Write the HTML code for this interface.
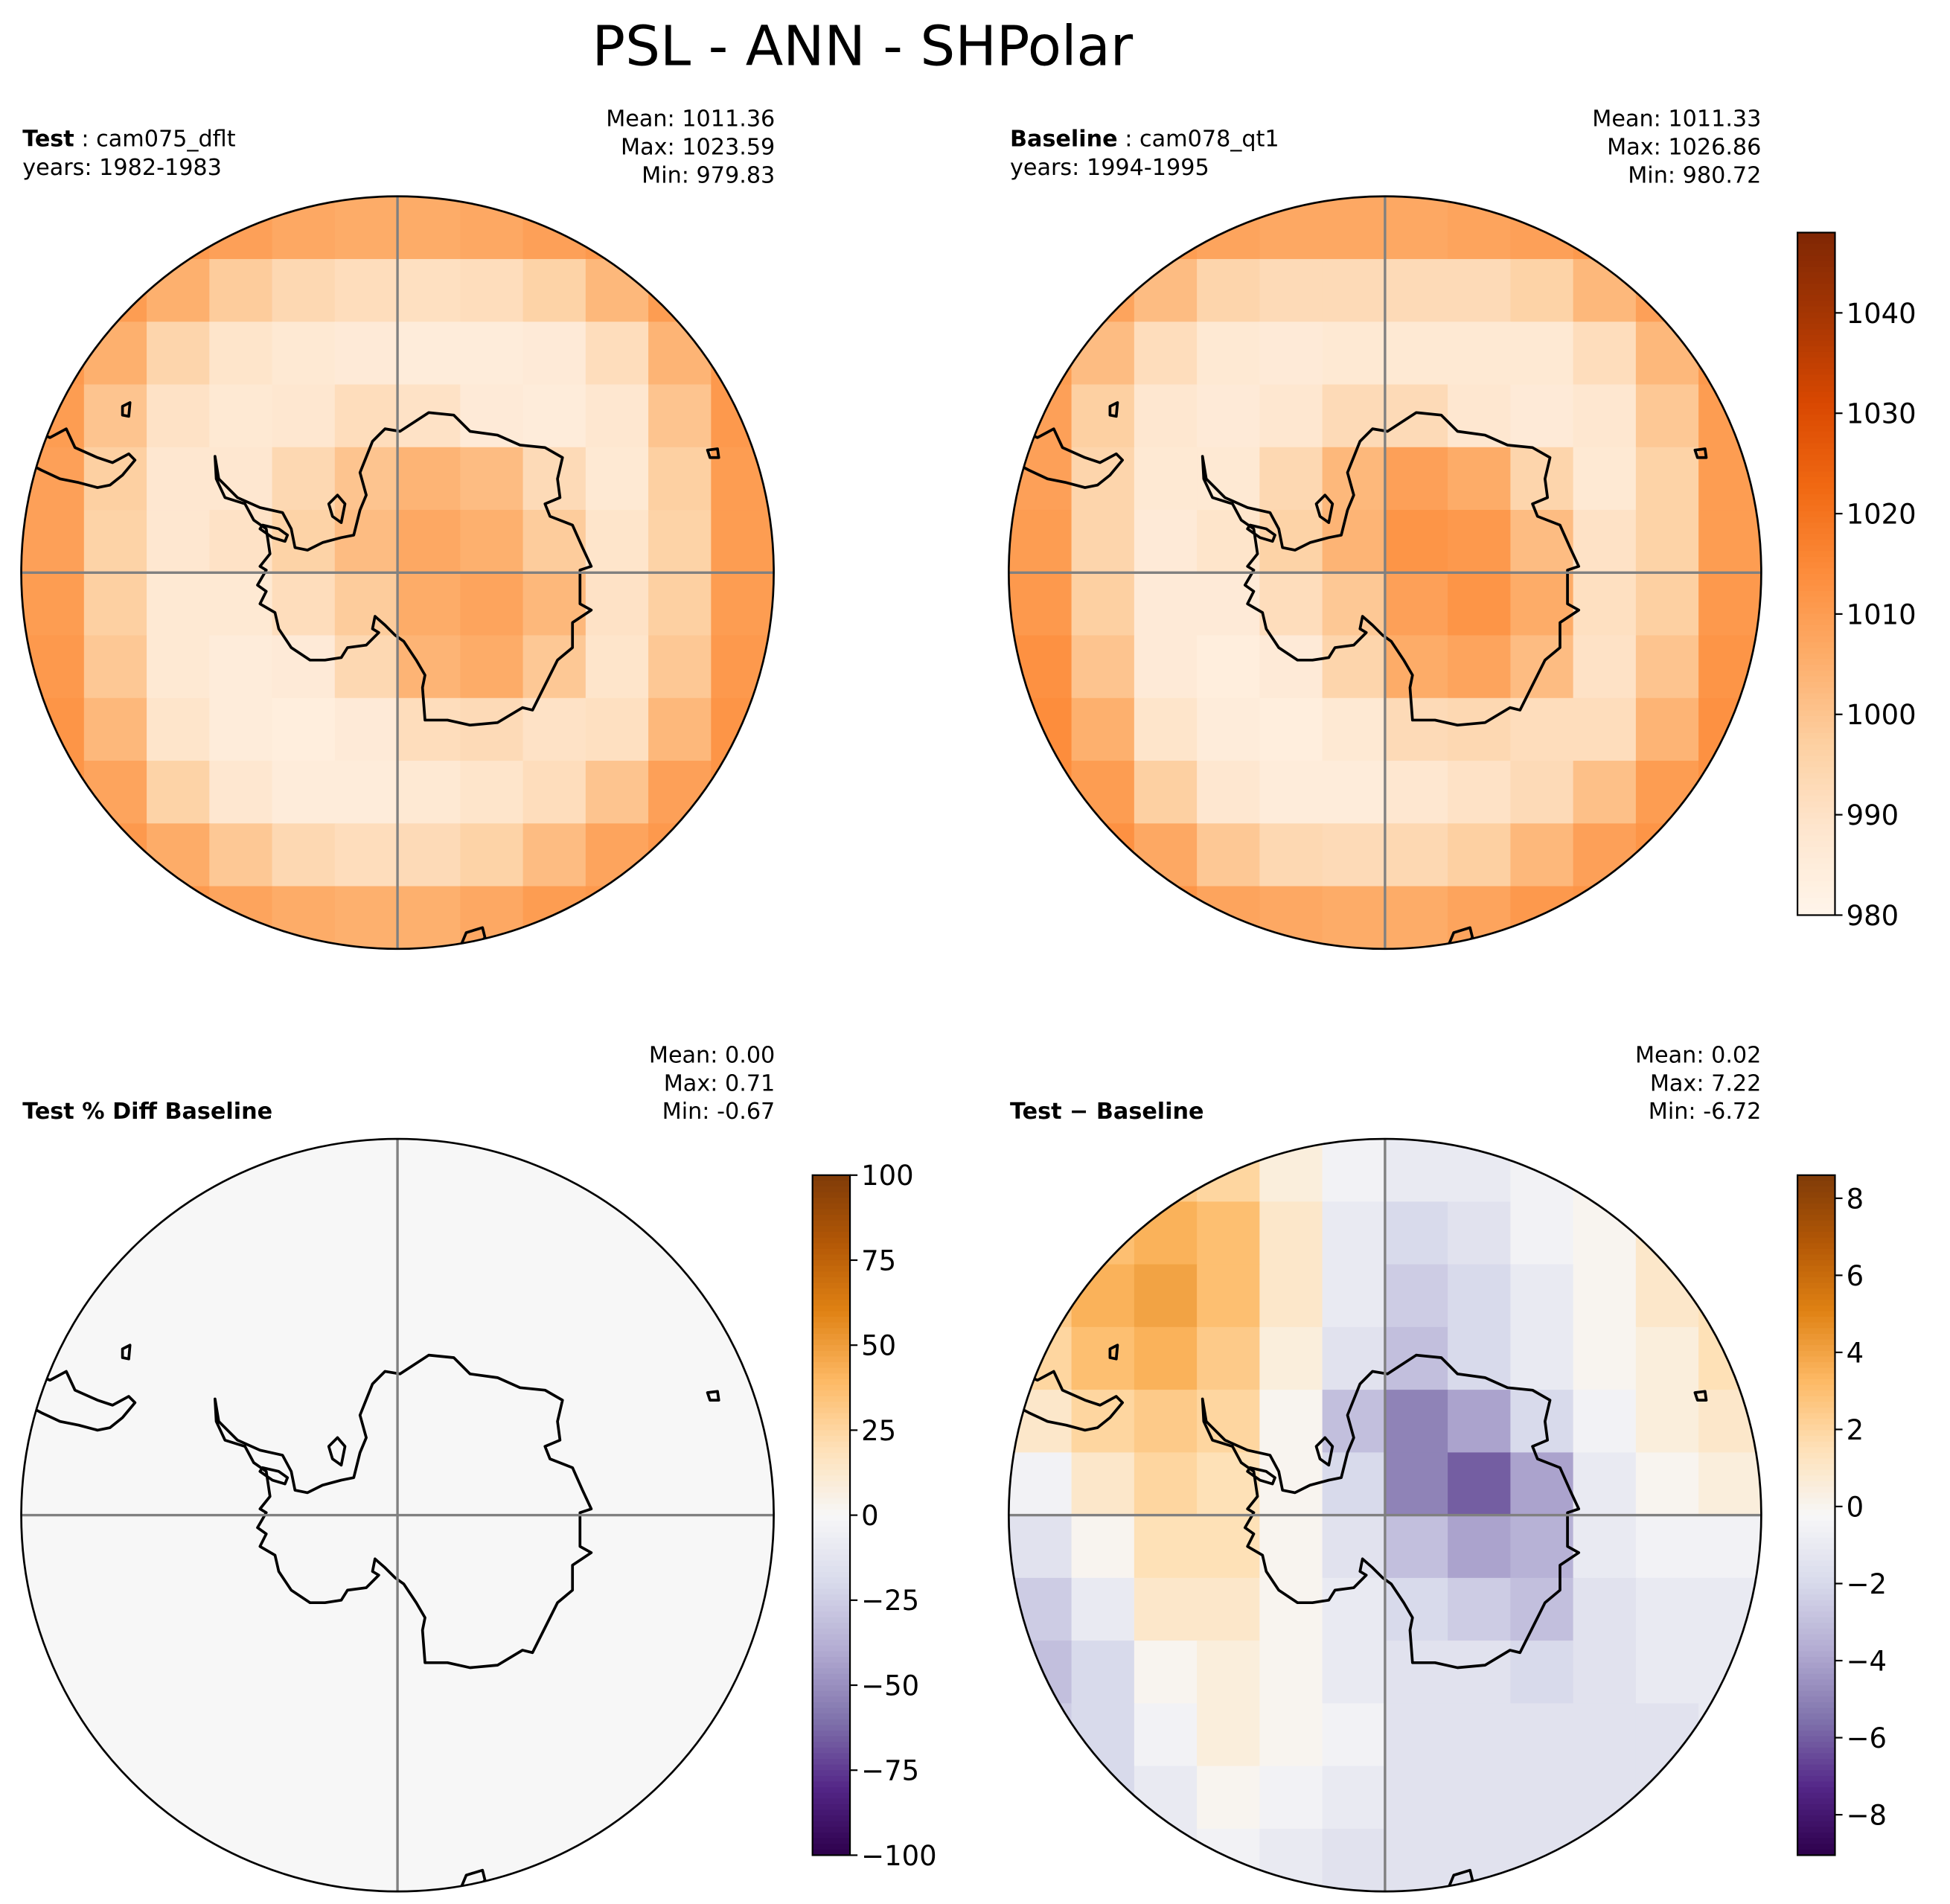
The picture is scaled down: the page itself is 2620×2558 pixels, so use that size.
<!DOCTYPE html>
<html><head><meta charset="utf-8">
<style>
html,body{margin:0;padding:0;background:#fff;}
svg{display:block;}
text{font-family:"DejaVu Sans","Liberation Sans",sans-serif;}
</style></head>
<body>
<svg id="fig" width="2620" height="2558" viewBox="0 0 1560 1523" xmlns="http://www.w3.org/2000/svg">
<defs>
<clipPath id="c1"><circle cx="318" cy="458" r="301"/></clipPath>
<clipPath id="c2"><circle cx="1108" cy="458" r="301"/></clipPath>
<clipPath id="c3"><circle cx="318" cy="1212" r="301"/></clipPath>
<clipPath id="c4"><circle cx="1108" cy="1212" r="301"/></clipPath>
</defs>
<text x="690" y="52" font-size="44" text-anchor="middle">PSL - ANN - SHPolar</text>
<g id="layer"></g>
</svg>
<script>
// ---- data ----
const testVals = [
[1012,1012,1011,1009,1007,1006,1006,1007,1009,1011,1012,1012],
[1012,1010,1005,998,994,992,991,992,996,1003,1010,1012],
[1011,1005,995,989,987,986,985,985,986,992,1004,1011],
[1010,1000,990,987,988,992,990,986,985,988,1000,1011],
[1009,997,988,988,994,1000,1004,1002,993,987,997,1010],
[1009,996,988,990,996,1002,1007,1005,998,989,996,1010],
[1010,997,987,987,992,998,1006,1008,1003,990,997,1010],
[1011,999,987,985,986,994,1004,1006,999,989,999,1011],
[1012,1003,989,985,984,986,992,993,990,991,1003,1012],
[1012,1008,996,988,985,985,987,989,992,1000,1009,1012],
[1012,1011,1006,999,994,992,993,996,1002,1008,1011,1012],
[1012,1012,1011,1008,1006,1005,1005,1007,1010,1011,1012,1012]];
const baseVals = [
[1011,1011,1010,1008,1007,1007,1007,1008,1009,1011,1012,1012],
[1011,1008,1002,995,993,993,993,993,996,1003,1009,1012],
[1010,1002,992,987,986,987,987,987,987,992,1003,1011],
[1009,997,988,986,988,993,993,988,986,988,999,1010],
[1009,995,987,987,994,1003,1009,1006,995,987,996,1010],
[1010,995,986,989,996,1004,1012,1011,1002,990,996,1010],
[1011,997,986,986,992,999,1009,1012,1006,991,997,1011],
[1013,1000,986,984,986,995,1006,1008,1002,990,1000,1012],
[1014,1005,989,985,984,987,993,994,992,992,1004,1013],
[1014,1010,997,988,985,985,988,990,993,1001,1010,1013],
[1014,1013,1007,999,994,993,994,997,1003,1009,1012,1013],
[1013,1013,1012,1008,1007,1006,1006,1008,1011,1012,1013,1013]];
const diffVals = [
[1,2,2.5,2,0.5,-0.5,-1,-1,-0.5,0,0.5,1],
[2,3,3.5,3,1,-1,-2,-1.5,-0.5,0,1,1.5],
[2.5,3.5,4,3,1,-1,-2.5,-2,-1,0,1,1.5],
[2,3,3.5,2.5,0.5,-1.5,-3,-2,-1,0,0.5,1.5],
[1,2,2.5,2,0,-3,-5,-4,-2,-0.5,0.5,1],
[-0.5,1,2,1.5,0,-2,-5,-6,-4,-1,0,0.5],
[-1.5,0,1.5,1.5,0,-1.5,-3,-4,-3.5,-1,-0.5,-0.5],
[-2.5,-1,1,1,0,-1,-2,-2.5,-3,-1.5,-1,-1],
[-3,-2,0,0.5,0,-1,-1.5,-1.5,-2,-1.5,-1,-1],
[-2.5,-2,-0.5,0.5,0,-0.5,-1.5,-1.5,-1.5,-1.5,-1.5,-1],
[-2,-2,-1,0,-0.5,-1,-1.5,-1.5,-1.5,-1.5,-1.5,-1.5],
[-1.5,-1.5,-1,-0.5,-1,-1.5,-1.5,-1.5,-1.5,-1.5,-1.5,-1.5]];
const pctVals = [
[0,0,0,0],[0,0,0,0],[0,0,0,0],[0,0,0,0]];
const psTicks = [980,990,1000,1010,1020,1030,1040];
const pctTicks = [-100,-75,-50,-25,0,25,50,75,100];
const diffTicks = [-8,-6,-4,-2,0,2,4,6,8];

// ---- colormaps ----
const oranges = ['#fff5eb','#fee6ce','#fdd0a2','#fdae6b','#fd8d3c','#f16913','#d94801','#a63603','#7f2704'];
const puor = ['#2d004b','#542788','#8073ac','#b2abd2','#d8daeb','#f7f7f7','#fee0b6','#fdb863','#e08214','#b35806','#7f3b08'];
function hex(h){return [1,3,5].map(i=>parseInt(h.substr(i,2),16));}
function cmap(stops,t){
  t=Math.max(0,Math.min(1,t));
  const n=stops.length-1, f=t*n, i=Math.min(n-1,Math.floor(f)), u=f-i;
  const a=hex(stops[i]), b=hex(stops[i+1]);
  return 'rgb('+a.map((v,k)=>Math.round(v+(b[k]-v)*u)).join(',')+')';
}
const NS='http://www.w3.org/2000/svg';
const layer=document.getElementById('layer');
function mk(tag,attrs,parent){const e=document.createElementNS(NS,tag);for(const k in attrs)e.setAttribute(k,attrs[k]);(parent||layer).appendChild(e);return e;}

function drawField(cx,cy,r,vals,stops,vmin,vmax,clip,name){
  const g=mk('g',{'clip-path':'url(#'+clip+')'});
  
  
  const n=vals.length, m=vals[0].length, cw=2*r/m, ch=2*r/n;
  for(let i=0;i<n;i++)for(let j=0;j<m;j++){
    const c=mk('rect',{x:cx-r+j*cw,y:cy-r+i*ch,width:cw+0.6,height:ch+0.6,fill:cmap(stops,(vals[i][j]-vmin)/(vmax-vmin))},g);
    
    
  }
}
// coastlines (relative to center)
const antarctica="M-146,-93 L-143,-75 L-138,-70 L-128,-60 L-110,-52 L-92,-48 L-85,-35 L-82,-20 L-72,-18 L-60,-24 L-45,-28 L-35,-30 L-30,-50 L-25,-62 L-30,-80 L-20,-105 L-10,-115 L2,-113 L25,-128 L45,-126 L58,-113 L80,-110 L98,-102 L118,-100 L132,-92 L128,-75 L130,-60 L118,-55 L122,-45 L140,-38 L148,-20 L155,-5 L146,-2 L146,25 L155,30 L140,40 L140,60 L128,70 L118,90 L108,110 L100,108 L80,120 L58,122 L40,118 L22,118 L20,92 L22,82 L15,70 L5,55 L-2,50 L-10,42 L-18,35 L-20,45 L-15,48 L-25,58 L-40,60 L-45,68 L-58,70 L-70,70 L-85,60 L-95,45 L-98,32 L-110,25 L-105,15 L-112,10 L-105,-2 L-110,-5 L-102,-15 L-105,-35 L-115,-42 L-122,-55 L-138,-60 L-145,-75 Z";
const peninsulaIsland="M-108,-38 L-95,-35 L-88,-30 L-90,-25 L-100,-28 L-110,-35 Z";
const weddellIsland="M-55,-55 L-48,-62 L-42,-55 L-45,-40 L-52,-45 Z";
const samerica="M-300,-90 L-288,-112 L-278,-108 L-265,-115 L-258,-100 L-240,-92 L-228,-88 L-215,-95 L-210,-90 L-220,-78 L-230,-70 L-240,-68 L-255,-72 L-270,-75 L-285,-82 Z";
const isl1="M-220,-133 L-214,-136 L-215,-125 L-220,-126 Z";
const isl2="M248,-98 L256,-99 L257,-92 L250,-92 Z";
const isl3="M50,300 L55,288 L68,284 L70,292 L64,298 Z";
function drawCoast(cx,cy,clip,name){
  const outer=mk('g',{'clip-path':'url(#'+clip+')'});
  
  
  const g=mk('g',{transform:'translate('+cx+','+cy+')',fill:'none',stroke:'#000','stroke-width':2.2,'stroke-linejoin':'round'},outer);
  [antarctica,peninsulaIsland,weddellIsland,samerica,isl1,isl2,isl3].forEach(d=>mk('path',{d:d},g));
}
function drawFrame(cx,cy,r,name){
  const l1=mk('line',{x1:cx,y1:cy-r,x2:cx,y2:cy+r,stroke:'#808080','stroke-width':2});
  
  
  const l2=mk('line',{x1:cx-r,y1:cy,x2:cx+r,y2:cy,stroke:'#808080','stroke-width':2});
  
  
  const c=mk('circle',{cx:cx,cy:cy,r:r,fill:'none',stroke:'#000','stroke-width':1.6});
  
  
}
function txt(x,y,s,anchor,size,weight,name){
  const t=mk('text',{x:x,y:y,'font-size':size,'text-anchor':anchor,'font-weight':weight||'normal'});
  t.textContent=s;
  
  
  return t;
}
function drawColorbar(x,top,bot,vmin,vmax,stops,ticks,name){
  const w=30, N=120, h=(bot-top)/N;
  for(let k=0;k<N;k++){
    const v=vmax-(k+0.5)/N*(vmax-vmin);
    mk('rect',{x:x,y:top+k*h,width:w,height:h+0.5,fill:cmap(stops,(v-vmin)/(vmax-vmin))});
  }
  const fr=mk('rect',{x:x,y:top,width:w,height:bot-top,fill:'none',stroke:'#000','stroke-width':1.3});
  
  
  ticks.forEach(t=>{
    const y=bot-(t-vmin)/(vmax-vmin)*(bot-top);
    mk('line',{x1:x+w,y1:y,x2:x+w+6,y2:y,stroke:'#000','stroke-width':1.3});
    txt(x+w+9,y+8,String(t).replace('-','\u2212'),'start',22,'normal',name+'-tick-label');
  });
}
// panels
drawField(318,458,301,testVals,oranges,980,1048,'c1','test-map');
drawCoast(318,458,'c1','test-map'); drawFrame(318,458,301,'test-map');
drawField(1108,458,301,baseVals,oranges,980,1048,'c2','baseline-map');
drawCoast(1108,458,'c2','baseline-map'); drawFrame(1108,458,301,'baseline-map');
drawField(318,1212,301,pctVals,puor,-100,100,'c3','pct-diff-map');
drawCoast(318,1212,'c3','pct-diff-map'); drawFrame(318,1212,301,'pct-diff-map');
drawField(1108,1212,301,diffVals,puor,-9.05,8.6,'c4','diff-map');
drawCoast(1108,1212,'c4','diff-map'); drawFrame(1108,1212,301,'diff-map');

drawColorbar(1438,186,732,980,1048,oranges,psTicks,'psl-colorbar');
drawColorbar(650,940,1484,-100,100,puor,pctTicks,'pct-colorbar');
drawColorbar(1438,940,1484,-9.05,8.6,puor,diffTicks,'diff-colorbar');

// headers
function header(lx,rx,y0,boldLbl,rest,years,stats,name){
  const t=txt(lx,y0,'','start',18,'normal',name+'-case-label');
  const b=document.createElementNS(NS,'tspan'); b.setAttribute('font-weight','bold'); b.textContent=boldLbl; t.appendChild(b);
  const r=document.createElementNS(NS,'tspan'); r.textContent=rest; t.appendChild(r);
  if(years) txt(lx,y0+23,years,'start',18,'normal',name+'-years');
  stats.forEach((s,i)=>txt(rx,y0-16+i*22.5,s,'end',18,'normal',name+'-stat'));
}
header(18,620,117,'Test',' : cam075_dflt','years: 1982-1983',['Mean: 1011.36','Max: 1023.59','Min: 979.83'],'test');
header(808,1409,117,'Baseline',' : cam078_qt1','years: 1994-1995',['Mean: 1011.33','Max: 1026.86','Min: 980.72'],'baseline');
txt(18,895,'Test % Diff Baseline','start',18,'bold','pct-diff-title');
['Mean:  0.00','Max:  0.71','Min: -0.67'].forEach((s,i)=>txt(620,850+i*22.5,s,'end',18,'normal','pct-diff-stat'));
const t4=txt(808,895,'','start',18,'normal','diff-title');
const tb=document.createElementNS(NS,'tspan'); tb.setAttribute('font-weight','bold'); tb.textContent='Test \u2212 Baseline'; t4.appendChild(tb);
['Mean:  0.02','Max:  7.22','Min: -6.72'].forEach((s,i)=>txt(1409,850+i*22.5,s,'end',18,'normal','diff-stat'));
</script>
</body></html>
